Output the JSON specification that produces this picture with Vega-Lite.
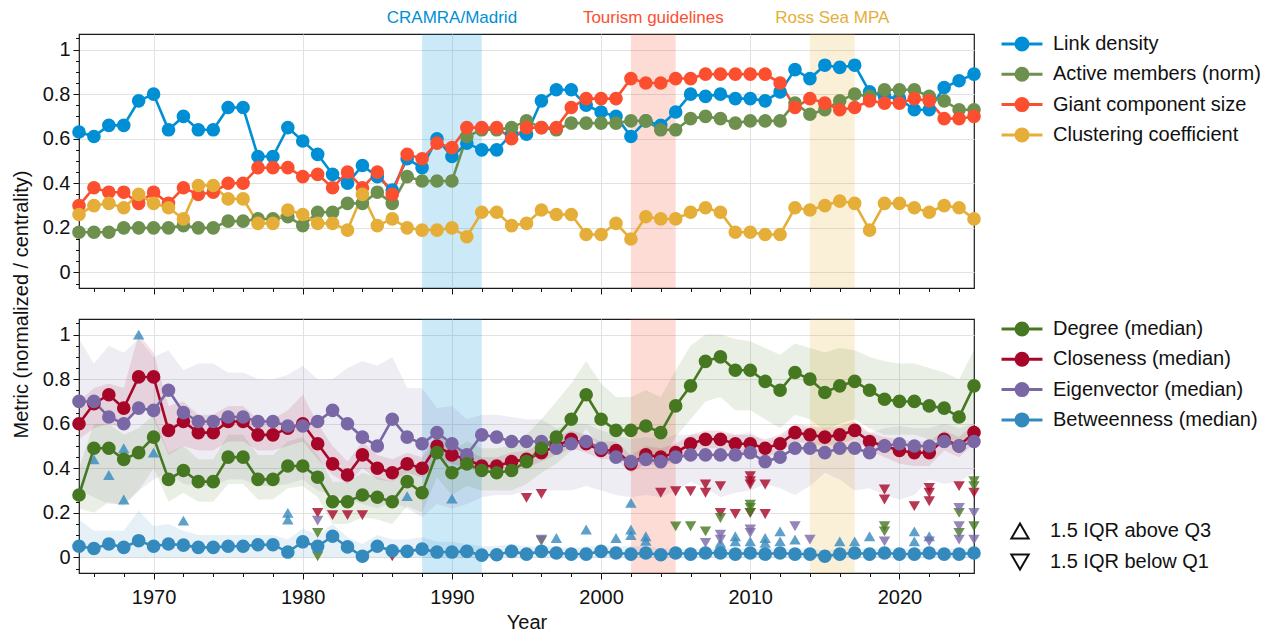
{
  "$schema": "https://vega.github.io/schema/vega-lite/v6.json",
  "background": "white",
  "padding": {"left": 10, "top": 8, "right": 5, "bottom": 5},
  "bounds": "flush",
  "spacing": 31,
  "resolve": {
    "scale": {"fill": "independent", "stroke": "independent", "color": "independent", "shape": "independent", "x": "independent", "y": "independent"},
    "legend": {"fill": "independent", "stroke": "independent", "color": "independent", "shape": "independent"},
    "axis": {"x": "independent", "y": "independent"}
  },
  "config": {
    "font": "Liberation Sans",
    "view": {"stroke": "#1a1a1a", "strokeWidth": 1.2},
    "axis": {"labelFontSize": 20, "titleFontSize": 20, "titleFontWeight": "normal", "labelColor": "#111", "titleColor": "#111", "tickColor": "#111", "domainColor": "#111", "gridColor": "#e2e2e2", "gridWidth": 1, "tickSize": 6, "labelPadding": 3},
    "legend": {"labelFontSize": 20, "labelColor": "#111", "padding": 0, "labelLimit": 0}
  },
  "datasets": {
    "events": [
      {"event": "CRAMRA/Madrid", "start": 1988, "end": 1992, "mid": 1990},
      {"event": "Tourism guidelines", "start": 2002, "end": 2005, "mid": 2003.5},
      {"event": "Ross Sea MPA", "start": 2014, "end": 2017, "mid": 2015.5}
    ],
    "top": [
      {"year":1965,"Link density":0.63,"Active members (norm)":0.18,"Giant component size":0.30,"Clustering coefficient":0.26},
      {"year":1966,"Link density":0.61,"Active members (norm)":0.18,"Giant component size":0.38,"Clustering coefficient":0.30},
      {"year":1967,"Link density":0.66,"Active members (norm)":0.18,"Giant component size":0.36,"Clustering coefficient":0.31},
      {"year":1968,"Link density":0.66,"Active members (norm)":0.20,"Giant component size":0.36,"Clustering coefficient":0.29},
      {"year":1969,"Link density":0.77,"Active members (norm)":0.20,"Giant component size":0.31,"Clustering coefficient":0.35},
      {"year":1970,"Link density":0.80,"Active members (norm)":0.20,"Giant component size":0.36,"Clustering coefficient":0.31},
      {"year":1971,"Link density":0.64,"Active members (norm)":0.20,"Giant component size":0.31,"Clustering coefficient":0.29},
      {"year":1972,"Link density":0.70,"Active members (norm)":0.21,"Giant component size":0.38,"Clustering coefficient":0.24},
      {"year":1973,"Link density":0.64,"Active members (norm)":0.20,"Giant component size":0.35,"Clustering coefficient":0.39},
      {"year":1974,"Link density":0.64,"Active members (norm)":0.20,"Giant component size":0.36,"Clustering coefficient":0.39},
      {"year":1975,"Link density":0.74,"Active members (norm)":0.23,"Giant component size":0.40,"Clustering coefficient":0.33},
      {"year":1976,"Link density":0.74,"Active members (norm)":0.23,"Giant component size":0.40,"Clustering coefficient":0.33},
      {"year":1977,"Link density":0.52,"Active members (norm)":0.24,"Giant component size":0.47,"Clustering coefficient":0.22},
      {"year":1978,"Link density":0.52,"Active members (norm)":0.24,"Giant component size":0.47,"Clustering coefficient":0.22},
      {"year":1979,"Link density":0.65,"Active members (norm)":0.25,"Giant component size":0.47,"Clustering coefficient":0.28},
      {"year":1980,"Link density":0.59,"Active members (norm)":0.21,"Giant component size":0.43,"Clustering coefficient":0.26},
      {"year":1981,"Link density":0.53,"Active members (norm)":0.27,"Giant component size":0.44,"Clustering coefficient":0.22},
      {"year":1982,"Link density":0.44,"Active members (norm)":0.27,"Giant component size":0.38,"Clustering coefficient":0.22},
      {"year":1983,"Link density":0.40,"Active members (norm)":0.31,"Giant component size":0.45,"Clustering coefficient":0.19},
      {"year":1984,"Link density":0.48,"Active members (norm)":0.31,"Giant component size":0.38,"Clustering coefficient":0.35},
      {"year":1985,"Link density":0.43,"Active members (norm)":0.36,"Giant component size":0.45,"Clustering coefficient":0.21},
      {"year":1986,"Link density":0.37,"Active members (norm)":0.31,"Giant component size":0.35,"Clustering coefficient":0.24},
      {"year":1987,"Link density":0.51,"Active members (norm)":0.43,"Giant component size":0.53,"Clustering coefficient":0.20},
      {"year":1988,"Link density":0.47,"Active members (norm)":0.41,"Giant component size":0.51,"Clustering coefficient":0.19},
      {"year":1989,"Link density":0.60,"Active members (norm)":0.41,"Giant component size":0.58,"Clustering coefficient":0.19},
      {"year":1990,"Link density":0.52,"Active members (norm)":0.41,"Giant component size":0.56,"Clustering coefficient":0.20},
      {"year":1991,"Link density":0.58,"Active members (norm)":0.61,"Giant component size":0.65,"Clustering coefficient":0.16},
      {"year":1992,"Link density":0.55,"Active members (norm)":0.64,"Giant component size":0.65,"Clustering coefficient":0.27},
      {"year":1993,"Link density":0.55,"Active members (norm)":0.64,"Giant component size":0.65,"Clustering coefficient":0.27},
      {"year":1994,"Link density":0.62,"Active members (norm)":0.65,"Giant component size":0.60,"Clustering coefficient":0.21},
      {"year":1995,"Link density":0.62,"Active members (norm)":0.68,"Giant component size":0.65,"Clustering coefficient":0.22},
      {"year":1996,"Link density":0.77,"Active members (norm)":0.65,"Giant component size":0.65,"Clustering coefficient":0.28},
      {"year":1997,"Link density":0.82,"Active members (norm)":0.64,"Giant component size":0.65,"Clustering coefficient":0.26},
      {"year":1998,"Link density":0.82,"Active members (norm)":0.67,"Giant component size":0.74,"Clustering coefficient":0.26},
      {"year":1999,"Link density":0.75,"Active members (norm)":0.67,"Giant component size":0.78,"Clustering coefficient":0.17},
      {"year":2000,"Link density":0.72,"Active members (norm)":0.67,"Giant component size":0.78,"Clustering coefficient":0.17},
      {"year":2001,"Link density":0.70,"Active members (norm)":0.67,"Giant component size":0.78,"Clustering coefficient":0.22},
      {"year":2002,"Link density":0.61,"Active members (norm)":0.68,"Giant component size":0.87,"Clustering coefficient":0.15},
      {"year":2003,"Link density":0.68,"Active members (norm)":0.68,"Giant component size":0.85,"Clustering coefficient":0.25},
      {"year":2004,"Link density":0.66,"Active members (norm)":0.64,"Giant component size":0.85,"Clustering coefficient":0.24},
      {"year":2005,"Link density":0.72,"Active members (norm)":0.64,"Giant component size":0.87,"Clustering coefficient":0.24},
      {"year":2006,"Link density":0.80,"Active members (norm)":0.69,"Giant component size":0.87,"Clustering coefficient":0.27},
      {"year":2007,"Link density":0.79,"Active members (norm)":0.70,"Giant component size":0.89,"Clustering coefficient":0.29},
      {"year":2008,"Link density":0.80,"Active members (norm)":0.69,"Giant component size":0.89,"Clustering coefficient":0.27},
      {"year":2009,"Link density":0.78,"Active members (norm)":0.67,"Giant component size":0.89,"Clustering coefficient":0.18},
      {"year":2010,"Link density":0.78,"Active members (norm)":0.68,"Giant component size":0.89,"Clustering coefficient":0.18},
      {"year":2011,"Link density":0.77,"Active members (norm)":0.68,"Giant component size":0.89,"Clustering coefficient":0.17},
      {"year":2012,"Link density":0.81,"Active members (norm)":0.68,"Giant component size":0.85,"Clustering coefficient":0.17},
      {"year":2013,"Link density":0.91,"Active members (norm)":0.76,"Giant component size":0.74,"Clustering coefficient":0.29},
      {"year":2014,"Link density":0.87,"Active members (norm)":0.71,"Giant component size":0.78,"Clustering coefficient":0.28},
      {"year":2015,"Link density":0.93,"Active members (norm)":0.73,"Giant component size":0.76,"Clustering coefficient":0.30},
      {"year":2016,"Link density":0.92,"Active members (norm)":0.77,"Giant component size":0.73,"Clustering coefficient":0.32},
      {"year":2017,"Link density":0.93,"Active members (norm)":0.80,"Giant component size":0.74,"Clustering coefficient":0.31},
      {"year":2018,"Link density":0.81,"Active members (norm)":0.79,"Giant component size":0.77,"Clustering coefficient":0.19},
      {"year":2019,"Link density":0.79,"Active members (norm)":0.82,"Giant component size":0.76,"Clustering coefficient":0.31},
      {"year":2020,"Link density":0.78,"Active members (norm)":0.82,"Giant component size":0.76,"Clustering coefficient":0.31},
      {"year":2021,"Link density":0.73,"Active members (norm)":0.82,"Giant component size":0.78,"Clustering coefficient":0.29},
      {"year":2022,"Link density":0.73,"Active members (norm)":0.79,"Giant component size":0.77,"Clustering coefficient":0.27},
      {"year":2023,"Link density":0.83,"Active members (norm)":0.77,"Giant component size":0.69,"Clustering coefficient":0.30},
      {"year":2024,"Link density":0.86,"Active members (norm)":0.73,"Giant component size":0.69,"Clustering coefficient":0.29},
      {"year":2025,"Link density":0.89,"Active members (norm)":0.73,"Giant component size":0.70,"Clustering coefficient":0.24}
    ],
    "bottom": [
      {"year":1965,"series":"Closeness (median)","m":0.60,"q1":0.53,"q3":0.70},{"year":1965,"series":"Eigenvector (median)","m":0.70,"q1":0.30,"q3":0.98},{"year":1965,"series":"Degree (median)","m":0.28,"q1":0.22,"q3":0.40},{"year":1965,"series":"Betweenness (median)","m":0.05,"q1":0,"q3":0.17},
      {"year":1966,"series":"Closeness (median)","m":0.69,"q1":0.58,"q3":0.76},{"year":1966,"series":"Eigenvector (median)","m":0.70,"q1":0.27,"q3":0.87},{"year":1966,"series":"Degree (median)","m":0.49,"q1":0.20,"q3":0.60},{"year":1966,"series":"Betweenness (median)","m":0.04,"q1":0,"q3":0.12},
      {"year":1967,"series":"Closeness (median)","m":0.73,"q1":0.60,"q3":0.78},{"year":1967,"series":"Eigenvector (median)","m":0.63,"q1":0.24,"q3":0.95},{"year":1967,"series":"Degree (median)","m":0.49,"q1":0.25,"q3":0.60},{"year":1967,"series":"Betweenness (median)","m":0.06,"q1":0,"q3":0.12},
      {"year":1968,"series":"Closeness (median)","m":0.67,"q1":0.58,"q3":0.76},{"year":1968,"series":"Eigenvector (median)","m":0.60,"q1":0.24,"q3":0.92},{"year":1968,"series":"Degree (median)","m":0.44,"q1":0.23,"q3":0.55},{"year":1968,"series":"Betweenness (median)","m":0.045,"q1":0,"q3":0.12},
      {"year":1969,"series":"Closeness (median)","m":0.81,"q1":0.70,"q3":1.0},{"year":1969,"series":"Eigenvector (median)","m":0.67,"q1":0.30,"q3":0.98},{"year":1969,"series":"Degree (median)","m":0.47,"q1":0.30,"q3":0.58},{"year":1969,"series":"Betweenness (median)","m":0.075,"q1":0,"q3":0.21},
      {"year":1970,"series":"Closeness (median)","m":0.81,"q1":0.62,"q3":0.92},{"year":1970,"series":"Eigenvector (median)","m":0.66,"q1":0.35,"q3":0.90},{"year":1970,"series":"Degree (median)","m":0.54,"q1":0.40,"q3":0.64},{"year":1970,"series":"Betweenness (median)","m":0.05,"q1":0,"q3":0.14},
      {"year":1971,"series":"Closeness (median)","m":0.57,"q1":0.46,"q3":0.68},{"year":1971,"series":"Eigenvector (median)","m":0.75,"q1":0.38,"q3":0.93},{"year":1971,"series":"Degree (median)","m":0.35,"q1":0.25,"q3":0.47},{"year":1971,"series":"Betweenness (median)","m":0.06,"q1":0,"q3":0.15},
      {"year":1972,"series":"Closeness (median)","m":0.61,"q1":0.50,"q3":0.70},{"year":1972,"series":"Eigenvector (median)","m":0.65,"q1":0.33,"q3":0.84},{"year":1972,"series":"Degree (median)","m":0.39,"q1":0.29,"q3":0.50},{"year":1972,"series":"Betweenness (median)","m":0.055,"q1":0,"q3":0.12},
      {"year":1973,"series":"Closeness (median)","m":0.56,"q1":0.48,"q3":0.64},{"year":1973,"series":"Eigenvector (median)","m":0.61,"q1":0.32,"q3":0.87},{"year":1973,"series":"Degree (median)","m":0.34,"q1":0.25,"q3":0.44},{"year":1973,"series":"Betweenness (median)","m":0.045,"q1":0,"q3":0.10},
      {"year":1974,"series":"Closeness (median)","m":0.56,"q1":0.48,"q3":0.64},{"year":1974,"series":"Eigenvector (median)","m":0.61,"q1":0.32,"q3":0.87},{"year":1974,"series":"Degree (median)","m":0.34,"q1":0.25,"q3":0.44},{"year":1974,"series":"Betweenness (median)","m":0.045,"q1":0,"q3":0.10},
      {"year":1975,"series":"Closeness (median)","m":0.61,"q1":0.52,"q3":0.68},{"year":1975,"series":"Eigenvector (median)","m":0.63,"q1":0.35,"q3":0.83},{"year":1975,"series":"Degree (median)","m":0.45,"q1":0.33,"q3":0.55},{"year":1975,"series":"Betweenness (median)","m":0.05,"q1":0,"q3":0.10},
      {"year":1976,"series":"Closeness (median)","m":0.61,"q1":0.52,"q3":0.68},{"year":1976,"series":"Eigenvector (median)","m":0.63,"q1":0.35,"q3":0.83},{"year":1976,"series":"Degree (median)","m":0.45,"q1":0.33,"q3":0.55},{"year":1976,"series":"Betweenness (median)","m":0.05,"q1":0,"q3":0.10},
      {"year":1977,"series":"Closeness (median)","m":0.55,"q1":0.48,"q3":0.62},{"year":1977,"series":"Eigenvector (median)","m":0.61,"q1":0.32,"q3":0.80},{"year":1977,"series":"Degree (median)","m":0.35,"q1":0.26,"q3":0.46},{"year":1977,"series":"Betweenness (median)","m":0.057,"q1":0,"q3":0.10},
      {"year":1978,"series":"Closeness (median)","m":0.55,"q1":0.48,"q3":0.62},{"year":1978,"series":"Eigenvector (median)","m":0.61,"q1":0.32,"q3":0.80},{"year":1978,"series":"Degree (median)","m":0.35,"q1":0.26,"q3":0.46},{"year":1978,"series":"Betweenness (median)","m":0.057,"q1":0,"q3":0.10},
      {"year":1979,"series":"Closeness (median)","m":0.58,"q1":0.50,"q3":0.66},{"year":1979,"series":"Eigenvector (median)","m":0.59,"q1":0.33,"q3":0.82},{"year":1979,"series":"Degree (median)","m":0.41,"q1":0.31,"q3":0.52},{"year":1979,"series":"Betweenness (median)","m":0.024,"q1":0,"q3":0.08},
      {"year":1980,"series":"Closeness (median)","m":0.60,"q1":0.52,"q3":0.73},{"year":1980,"series":"Eigenvector (median)","m":0.59,"q1":0.35,"q3":0.86},{"year":1980,"series":"Degree (median)","m":0.41,"q1":0.32,"q3":0.54},{"year":1980,"series":"Betweenness (median)","m":0.07,"q1":0,"q3":0.13},
      {"year":1981,"series":"Closeness (median)","m":0.51,"q1":0.44,"q3":0.60},{"year":1981,"series":"Eigenvector (median)","m":0.61,"q1":0.30,"q3":0.80},{"year":1981,"series":"Degree (median)","m":0.36,"q1":0.27,"q3":0.46},{"year":1981,"series":"Betweenness (median)","m":0.05,"q1":0,"q3":0.10},
      {"year":1982,"series":"Closeness (median)","m":0.42,"q1":0.37,"q3":0.50},{"year":1982,"series":"Eigenvector (median)","m":0.66,"q1":0.28,"q3":0.80},{"year":1982,"series":"Degree (median)","m":0.25,"q1":0.15,"q3":0.34},{"year":1982,"series":"Betweenness (median)","m":0.095,"q1":0,"q3":0.15},
      {"year":1983,"series":"Closeness (median)","m":0.37,"q1":0.33,"q3":0.43},{"year":1983,"series":"Eigenvector (median)","m":0.60,"q1":0.26,"q3":0.85},{"year":1983,"series":"Degree (median)","m":0.25,"q1":0.15,"q3":0.34},{"year":1983,"series":"Betweenness (median)","m":0.047,"q1":0,"q3":0.09},
      {"year":1984,"series":"Closeness (median)","m":0.46,"q1":0.40,"q3":0.52},{"year":1984,"series":"Eigenvector (median)","m":0.54,"q1":0.24,"q3":0.88},{"year":1984,"series":"Degree (median)","m":0.28,"q1":0.18,"q3":0.38},{"year":1984,"series":"Betweenness (median)","m":0.005,"q1":0,"q3":0.06},
      {"year":1985,"series":"Closeness (median)","m":0.40,"q1":0.35,"q3":0.46},{"year":1985,"series":"Eigenvector (median)","m":0.50,"q1":0.22,"q3":0.86},{"year":1985,"series":"Degree (median)","m":0.27,"q1":0.17,"q3":0.36},{"year":1985,"series":"Betweenness (median)","m":0.05,"q1":0,"q3":0.10},
      {"year":1986,"series":"Closeness (median)","m":0.38,"q1":0.34,"q3":0.44},{"year":1986,"series":"Eigenvector (median)","m":0.62,"q1":0.25,"q3":0.90},{"year":1986,"series":"Degree (median)","m":0.25,"q1":0.15,"q3":0.34},{"year":1986,"series":"Betweenness (median)","m":0.03,"q1":0,"q3":0.08},
      {"year":1987,"series":"Closeness (median)","m":0.42,"q1":0.38,"q3":0.47},{"year":1987,"series":"Eigenvector (median)","m":0.54,"q1":0.22,"q3":0.76},{"year":1987,"series":"Degree (median)","m":0.34,"q1":0.23,"q3":0.45},{"year":1987,"series":"Betweenness (median)","m":0.027,"q1":0,"q3":0.08},
      {"year":1988,"series":"Closeness (median)","m":0.40,"q1":0.36,"q3":0.45},{"year":1988,"series":"Eigenvector (median)","m":0.51,"q1":0.18,"q3":0.76},{"year":1988,"series":"Degree (median)","m":0.29,"q1":0.20,"q3":0.40},{"year":1988,"series":"Betweenness (median)","m":0.037,"q1":0,"q3":0.09},
      {"year":1989,"series":"Closeness (median)","m":0.50,"q1":0.45,"q3":0.55},{"year":1989,"series":"Eigenvector (median)","m":0.56,"q1":0.24,"q3":0.67},{"year":1989,"series":"Degree (median)","m":0.47,"q1":0.36,"q3":0.56},{"year":1989,"series":"Betweenness (median)","m":0.024,"q1":0,"q3":0.07},
      {"year":1990,"series":"Closeness (median)","m":0.46,"q1":0.42,"q3":0.50},{"year":1990,"series":"Eigenvector (median)","m":0.51,"q1":0.22,"q3":0.68},{"year":1990,"series":"Degree (median)","m":0.38,"q1":0.28,"q3":0.48},{"year":1990,"series":"Betweenness (median)","m":0.024,"q1":0,"q3":0.07},
      {"year":1991,"series":"Closeness (median)","m":0.44,"q1":0.40,"q3":0.48},{"year":1991,"series":"Eigenvector (median)","m":0.46,"q1":0.24,"q3":0.62},{"year":1991,"series":"Degree (median)","m":0.42,"q1":0.32,"q3":0.52},{"year":1991,"series":"Betweenness (median)","m":0.027,"q1":0,"q3":0.06},
      {"year":1992,"series":"Closeness (median)","m":0.41,"q1":0.38,"q3":0.45},{"year":1992,"series":"Eigenvector (median)","m":0.55,"q1":0.27,"q3":0.64},{"year":1992,"series":"Degree (median)","m":0.39,"q1":0.30,"q3":0.49},{"year":1992,"series":"Betweenness (median)","m":0.01,"q1":0,"q3":0.05},
      {"year":1993,"series":"Closeness (median)","m":0.41,"q1":0.38,"q3":0.45},{"year":1993,"series":"Eigenvector (median)","m":0.54,"q1":0.28,"q3":0.64},{"year":1993,"series":"Degree (median)","m":0.38,"q1":0.30,"q3":0.49},{"year":1993,"series":"Betweenness (median)","m":0.012,"q1":0,"q3":0.05},
      {"year":1994,"series":"Closeness (median)","m":0.43,"q1":0.39,"q3":0.47},{"year":1994,"series":"Eigenvector (median)","m":0.52,"q1":0.28,"q3":0.63},{"year":1994,"series":"Degree (median)","m":0.39,"q1":0.30,"q3":0.50},{"year":1994,"series":"Betweenness (median)","m":0.027,"q1":0,"q3":0.06},
      {"year":1995,"series":"Closeness (median)","m":0.44,"q1":0.40,"q3":0.48},{"year":1995,"series":"Eigenvector (median)","m":0.52,"q1":0.30,"q3":0.62},{"year":1995,"series":"Degree (median)","m":0.43,"q1":0.33,"q3":0.55},{"year":1995,"series":"Betweenness (median)","m":0.015,"q1":0,"q3":0.05},
      {"year":1996,"series":"Closeness (median)","m":0.47,"q1":0.43,"q3":0.51},{"year":1996,"series":"Eigenvector (median)","m":0.52,"q1":0.30,"q3":0.62},{"year":1996,"series":"Degree (median)","m":0.49,"q1":0.38,"q3":0.62},{"year":1996,"series":"Betweenness (median)","m":0.027,"q1":0,"q3":0.05},
      {"year":1997,"series":"Closeness (median)","m":0.50,"q1":0.46,"q3":0.54},{"year":1997,"series":"Eigenvector (median)","m":0.49,"q1":0.30,"q3":0.58},{"year":1997,"series":"Degree (median)","m":0.54,"q1":0.42,"q3":0.70},{"year":1997,"series":"Betweenness (median)","m":0.02,"q1":0,"q3":0.05},
      {"year":1998,"series":"Closeness (median)","m":0.53,"q1":0.49,"q3":0.57},{"year":1998,"series":"Eigenvector (median)","m":0.51,"q1":0.30,"q3":0.60},{"year":1998,"series":"Degree (median)","m":0.62,"q1":0.48,"q3":0.78},{"year":1998,"series":"Betweenness (median)","m":0.015,"q1":0,"q3":0.04},
      {"year":1999,"series":"Closeness (median)","m":0.51,"q1":0.47,"q3":0.55},{"year":1999,"series":"Eigenvector (median)","m":0.52,"q1":0.32,"q3":0.60},{"year":1999,"series":"Degree (median)","m":0.73,"q1":0.58,"q3":0.88},{"year":1999,"series":"Betweenness (median)","m":0.015,"q1":0,"q3":0.05},
      {"year":2000,"series":"Closeness (median)","m":0.48,"q1":0.44,"q3":0.52},{"year":2000,"series":"Eigenvector (median)","m":0.49,"q1":0.30,"q3":0.57},{"year":2000,"series":"Degree (median)","m":0.62,"q1":0.48,"q3":0.78},{"year":2000,"series":"Betweenness (median)","m":0.027,"q1":0,"q3":0.05},
      {"year":2001,"series":"Closeness (median)","m":0.48,"q1":0.44,"q3":0.52},{"year":2001,"series":"Eigenvector (median)","m":0.45,"q1":0.28,"q3":0.55},{"year":2001,"series":"Degree (median)","m":0.57,"q1":0.44,"q3":0.72},{"year":2001,"series":"Betweenness (median)","m":0.02,"q1":0,"q3":0.05},
      {"year":2002,"series":"Closeness (median)","m":0.42,"q1":0.38,"q3":0.46},{"year":2002,"series":"Eigenvector (median)","m":0.43,"q1":0.27,"q3":0.53},{"year":2002,"series":"Degree (median)","m":0.57,"q1":0.44,"q3":0.72},{"year":2002,"series":"Betweenness (median)","m":0.015,"q1":0,"q3":0.05},
      {"year":2003,"series":"Closeness (median)","m":0.46,"q1":0.42,"q3":0.50},{"year":2003,"series":"Eigenvector (median)","m":0.44,"q1":0.28,"q3":0.54},{"year":2003,"series":"Degree (median)","m":0.59,"q1":0.46,"q3":0.75},{"year":2003,"series":"Betweenness (median)","m":0.02,"q1":0,"q3":0.05},
      {"year":2004,"series":"Closeness (median)","m":0.45,"q1":0.41,"q3":0.49},{"year":2004,"series":"Eigenvector (median)","m":0.43,"q1":0.27,"q3":0.53},{"year":2004,"series":"Degree (median)","m":0.56,"q1":0.43,"q3":0.72},{"year":2004,"series":"Betweenness (median)","m":0.012,"q1":0,"q3":0.04},
      {"year":2005,"series":"Closeness (median)","m":0.47,"q1":0.43,"q3":0.51},{"year":2005,"series":"Eigenvector (median)","m":0.45,"q1":0.30,"q3":0.55},{"year":2005,"series":"Degree (median)","m":0.68,"q1":0.54,"q3":0.84},{"year":2005,"series":"Betweenness (median)","m":0.02,"q1":0,"q3":0.04},
      {"year":2006,"series":"Closeness (median)","m":0.51,"q1":0.47,"q3":0.55},{"year":2006,"series":"Eigenvector (median)","m":0.46,"q1":0.34,"q3":0.55},{"year":2006,"series":"Degree (median)","m":0.77,"q1":0.62,"q3":0.95},{"year":2006,"series":"Betweenness (median)","m":0.015,"q1":0,"q3":0.04},
      {"year":2007,"series":"Closeness (median)","m":0.53,"q1":0.49,"q3":0.57},{"year":2007,"series":"Eigenvector (median)","m":0.46,"q1":0.31,"q3":0.55},{"year":2007,"series":"Degree (median)","m":0.88,"q1":0.70,"q3":1.0},{"year":2007,"series":"Betweenness (median)","m":0.02,"q1":0,"q3":0.04},
      {"year":2008,"series":"Closeness (median)","m":0.53,"q1":0.49,"q3":0.57},{"year":2008,"series":"Eigenvector (median)","m":0.46,"q1":0.27,"q3":0.55},{"year":2008,"series":"Degree (median)","m":0.90,"q1":0.72,"q3":1.0},{"year":2008,"series":"Betweenness (median)","m":0.02,"q1":0,"q3":0.04},
      {"year":2009,"series":"Closeness (median)","m":0.51,"q1":0.47,"q3":0.55},{"year":2009,"series":"Eigenvector (median)","m":0.46,"q1":0.29,"q3":0.55},{"year":2009,"series":"Degree (median)","m":0.84,"q1":0.66,"q3":0.98},{"year":2009,"series":"Betweenness (median)","m":0.015,"q1":0,"q3":0.04},
      {"year":2010,"series":"Closeness (median)","m":0.51,"q1":0.47,"q3":0.55},{"year":2010,"series":"Eigenvector (median)","m":0.47,"q1":0.30,"q3":0.56},{"year":2010,"series":"Degree (median)","m":0.84,"q1":0.66,"q3":0.97},{"year":2010,"series":"Betweenness (median)","m":0.02,"q1":0,"q3":0.04},
      {"year":2011,"series":"Closeness (median)","m":0.49,"q1":0.45,"q3":0.53},{"year":2011,"series":"Eigenvector (median)","m":0.43,"q1":0.33,"q3":0.52},{"year":2011,"series":"Degree (median)","m":0.79,"q1":0.62,"q3":0.94},{"year":2011,"series":"Betweenness (median)","m":0.015,"q1":0,"q3":0.04},
      {"year":2012,"series":"Closeness (median)","m":0.51,"q1":0.47,"q3":0.55},{"year":2012,"series":"Eigenvector (median)","m":0.45,"q1":0.31,"q3":0.54},{"year":2012,"series":"Degree (median)","m":0.75,"q1":0.58,"q3":0.91},{"year":2012,"series":"Betweenness (median)","m":0.02,"q1":0,"q3":0.04},
      {"year":2013,"series":"Closeness (median)","m":0.56,"q1":0.52,"q3":0.60},{"year":2013,"series":"Eigenvector (median)","m":0.49,"q1":0.28,"q3":0.58},{"year":2013,"series":"Degree (median)","m":0.83,"q1":0.64,"q3":0.96},{"year":2013,"series":"Betweenness (median)","m":0.015,"q1":0,"q3":0.04},
      {"year":2014,"series":"Closeness (median)","m":0.55,"q1":0.51,"q3":0.59},{"year":2014,"series":"Eigenvector (median)","m":0.49,"q1":0.32,"q3":0.58},{"year":2014,"series":"Degree (median)","m":0.80,"q1":0.62,"q3":0.94},{"year":2014,"series":"Betweenness (median)","m":0.015,"q1":0,"q3":0.04},
      {"year":2015,"series":"Closeness (median)","m":0.54,"q1":0.50,"q3":0.58},{"year":2015,"series":"Eigenvector (median)","m":0.47,"q1":0.38,"q3":0.56},{"year":2015,"series":"Degree (median)","m":0.74,"q1":0.57,"q3":0.92},{"year":2015,"series":"Betweenness (median)","m":0.005,"q1":0,"q3":0.03},
      {"year":2016,"series":"Closeness (median)","m":0.55,"q1":0.51,"q3":0.59},{"year":2016,"series":"Eigenvector (median)","m":0.49,"q1":0.35,"q3":0.58},{"year":2016,"series":"Degree (median)","m":0.77,"q1":0.60,"q3":0.94},{"year":2016,"series":"Betweenness (median)","m":0.015,"q1":0,"q3":0.04},
      {"year":2017,"series":"Closeness (median)","m":0.57,"q1":0.53,"q3":0.61},{"year":2017,"series":"Eigenvector (median)","m":0.49,"q1":0.30,"q3":0.58},{"year":2017,"series":"Degree (median)","m":0.79,"q1":0.62,"q3":0.93},{"year":2017,"series":"Betweenness (median)","m":0.02,"q1":0,"q3":0.04},
      {"year":2018,"series":"Closeness (median)","m":0.52,"q1":0.48,"q3":0.56},{"year":2018,"series":"Eigenvector (median)","m":0.47,"q1":0.31,"q3":0.56},{"year":2018,"series":"Degree (median)","m":0.75,"q1":0.58,"q3":0.90},{"year":2018,"series":"Betweenness (median)","m":0.015,"q1":0,"q3":0.04},
      {"year":2019,"series":"Closeness (median)","m":0.50,"q1":0.45,"q3":0.54},{"year":2019,"series":"Eigenvector (median)","m":0.50,"q1":0.28,"q3":0.58},{"year":2019,"series":"Degree (median)","m":0.71,"q1":0.55,"q3":0.88},{"year":2019,"series":"Betweenness (median)","m":0.02,"q1":0,"q3":0.04},
      {"year":2020,"series":"Closeness (median)","m":0.48,"q1":0.42,"q3":0.53},{"year":2020,"series":"Eigenvector (median)","m":0.51,"q1":0.26,"q3":0.59},{"year":2020,"series":"Degree (median)","m":0.70,"q1":0.55,"q3":0.87},{"year":2020,"series":"Betweenness (median)","m":0.015,"q1":0,"q3":0.04},
      {"year":2021,"series":"Closeness (median)","m":0.47,"q1":0.41,"q3":0.52},{"year":2021,"series":"Eigenvector (median)","m":0.50,"q1":0.28,"q3":0.58},{"year":2021,"series":"Degree (median)","m":0.70,"q1":0.55,"q3":0.87},{"year":2021,"series":"Betweenness (median)","m":0.015,"q1":0,"q3":0.04},
      {"year":2022,"series":"Closeness (median)","m":0.47,"q1":0.41,"q3":0.52},{"year":2022,"series":"Eigenvector (median)","m":0.50,"q1":0.35,"q3":0.58},{"year":2022,"series":"Degree (median)","m":0.68,"q1":0.53,"q3":0.85},{"year":2022,"series":"Betweenness (median)","m":0.02,"q1":0,"q3":0.04},
      {"year":2023,"series":"Closeness (median)","m":0.53,"q1":0.48,"q3":0.57},{"year":2023,"series":"Eigenvector (median)","m":0.52,"q1":0.33,"q3":0.60},{"year":2023,"series":"Degree (median)","m":0.67,"q1":0.52,"q3":0.83},{"year":2023,"series":"Betweenness (median)","m":0.015,"q1":0,"q3":0.04},
      {"year":2024,"series":"Closeness (median)","m":0.50,"q1":0.45,"q3":0.54},{"year":2024,"series":"Eigenvector (median)","m":0.50,"q1":0.34,"q3":0.58},{"year":2024,"series":"Degree (median)","m":0.63,"q1":0.48,"q3":0.80},{"year":2024,"series":"Betweenness (median)","m":0.015,"q1":0,"q3":0.04},
      {"year":2025,"series":"Closeness (median)","m":0.56,"q1":0.51,"q3":0.60},{"year":2025,"series":"Eigenvector (median)","m":0.52,"q1":0.38,"q3":0.60},{"year":2025,"series":"Degree (median)","m":0.77,"q1":0.60,"q3":0.93},{"year":2025,"series":"Betweenness (median)","m":0.02,"q1":0,"q3":0.04}
    ],
    "outliers": [
      {"year":1966,"series":"Betweenness (median)","v":0.44,"dir":"1.5 IQR above Q3"},
      {"year":1967,"series":"Betweenness (median)","v":0.37,"dir":"1.5 IQR above Q3"},
      {"year":1968,"series":"Betweenness (median)","v":0.49,"dir":"1.5 IQR above Q3"},
      {"year":1968,"series":"Betweenness (median)","v":0.26,"dir":"1.5 IQR above Q3"},
      {"year":1969,"series":"Betweenness (median)","v":1.0,"dir":"1.5 IQR above Q3"},
      {"year":1970,"series":"Betweenness (median)","v":0.47,"dir":"1.5 IQR above Q3"},
      {"year":1972,"series":"Betweenness (median)","v":0.165,"dir":"1.5 IQR above Q3"},
      {"year":1979,"series":"Betweenness (median)","v":0.20,"dir":"1.5 IQR above Q3"},
      {"year":1979,"series":"Betweenness (median)","v":0.17,"dir":"1.5 IQR above Q3"},
      {"year":1987,"series":"Betweenness (median)","v":0.275,"dir":"1.5 IQR above Q3"},
      {"year":1990,"series":"Betweenness (median)","v":0.264,"dir":"1.5 IQR above Q3"},
      {"year":1997,"series":"Betweenness (median)","v":0.087,"dir":"1.5 IQR above Q3"},
      {"year":1999,"series":"Betweenness (median)","v":0.125,"dir":"1.5 IQR above Q3"},
      {"year":2001,"series":"Betweenness (median)","v":0.087,"dir":"1.5 IQR above Q3"},
      {"year":2002,"series":"Betweenness (median)","v":0.245,"dir":"1.5 IQR above Q3"},
      {"year":2002,"series":"Betweenness (median)","v":0.125,"dir":"1.5 IQR above Q3"},
      {"year":2002,"series":"Betweenness (median)","v":0.10,"dir":"1.5 IQR above Q3"},
      {"year":2003,"series":"Betweenness (median)","v":0.095,"dir":"1.5 IQR above Q3"},
      {"year":2003,"series":"Betweenness (median)","v":0.075,"dir":"1.5 IQR above Q3"},
      {"year":2008,"series":"Betweenness (median)","v":0.065,"dir":"1.5 IQR above Q3"},
      {"year":2009,"series":"Betweenness (median)","v":0.095,"dir":"1.5 IQR above Q3"},
      {"year":2009,"series":"Betweenness (median)","v":0.072,"dir":"1.5 IQR above Q3"},
      {"year":2010,"series":"Betweenness (median)","v":0.072,"dir":"1.5 IQR above Q3"},
      {"year":2011,"series":"Betweenness (median)","v":0.087,"dir":"1.5 IQR above Q3"},
      {"year":2011,"series":"Betweenness (median)","v":0.065,"dir":"1.5 IQR above Q3"},
      {"year":2012,"series":"Betweenness (median)","v":0.117,"dir":"1.5 IQR above Q3"},
      {"year":2012,"series":"Betweenness (median)","v":0.072,"dir":"1.5 IQR above Q3"},
      {"year":2013,"series":"Betweenness (median)","v":0.08,"dir":"1.5 IQR above Q3"},
      {"year":2016,"series":"Betweenness (median)","v":0.072,"dir":"1.5 IQR above Q3"},
      {"year":2017,"series":"Betweenness (median)","v":0.072,"dir":"1.5 IQR above Q3"},
      {"year":2018,"series":"Betweenness (median)","v":0.095,"dir":"1.5 IQR above Q3"},
      {"year":2021,"series":"Betweenness (median)","v":0.117,"dir":"1.5 IQR above Q3"},
      {"year":2021,"series":"Betweenness (median)","v":0.072,"dir":"1.5 IQR above Q3"},
      {"year":2022,"series":"Betweenness (median)","v":0.095,"dir":"1.5 IQR above Q3"},
      {"year":1981,"series":"Closeness (median)","v":0.20,"dir":"1.5 IQR below Q1"},
      {"year":1982,"series":"Closeness (median)","v":0.19,"dir":"1.5 IQR below Q1"},
      {"year":1983,"series":"Closeness (median)","v":0.19,"dir":"1.5 IQR below Q1"},
      {"year":1984,"series":"Closeness (median)","v":0.19,"dir":"1.5 IQR below Q1"},
      {"year":1986,"series":"Closeness (median)","v":0.005,"dir":"1.5 IQR below Q1"},
      {"year":1995,"series":"Closeness (median)","v":0.267,"dir":"1.5 IQR below Q1"},
      {"year":1996,"series":"Closeness (median)","v":0.285,"dir":"1.5 IQR below Q1"},
      {"year":2004,"series":"Closeness (median)","v":0.29,"dir":"1.5 IQR below Q1"},
      {"year":2005,"series":"Closeness (median)","v":0.297,"dir":"1.5 IQR below Q1"},
      {"year":2006,"series":"Closeness (median)","v":0.297,"dir":"1.5 IQR below Q1"},
      {"year":2007,"series":"Closeness (median)","v":0.327,"dir":"1.5 IQR below Q1"},
      {"year":2007,"series":"Closeness (median)","v":0.29,"dir":"1.5 IQR below Q1"},
      {"year":2008,"series":"Closeness (median)","v":0.32,"dir":"1.5 IQR below Q1"},
      {"year":2008,"series":"Closeness (median)","v":0.20,"dir":"1.5 IQR below Q1"},
      {"year":2009,"series":"Closeness (median)","v":0.195,"dir":"1.5 IQR below Q1"},
      {"year":2010,"series":"Closeness (median)","v":0.365,"dir":"1.5 IQR below Q1"},
      {"year":2010,"series":"Closeness (median)","v":0.342,"dir":"1.5 IQR below Q1"},
      {"year":2010,"series":"Closeness (median)","v":0.327,"dir":"1.5 IQR below Q1"},
      {"year":2010,"series":"Closeness (median)","v":0.20,"dir":"1.5 IQR below Q1"},
      {"year":2011,"series":"Closeness (median)","v":0.327,"dir":"1.5 IQR below Q1"},
      {"year":2011,"series":"Closeness (median)","v":0.195,"dir":"1.5 IQR below Q1"},
      {"year":2019,"series":"Closeness (median)","v":0.305,"dir":"1.5 IQR below Q1"},
      {"year":2019,"series":"Closeness (median)","v":0.26,"dir":"1.5 IQR below Q1"},
      {"year":2021,"series":"Closeness (median)","v":0.23,"dir":"1.5 IQR below Q1"},
      {"year":2022,"series":"Closeness (median)","v":0.312,"dir":"1.5 IQR below Q1"},
      {"year":2022,"series":"Closeness (median)","v":0.29,"dir":"1.5 IQR below Q1"},
      {"year":2022,"series":"Closeness (median)","v":0.252,"dir":"1.5 IQR below Q1"},
      {"year":2024,"series":"Closeness (median)","v":0.32,"dir":"1.5 IQR below Q1"},
      {"year":2025,"series":"Closeness (median)","v":0.29,"dir":"1.5 IQR below Q1"},
      {"year":1981,"series":"Degree (median)","v":0.11,"dir":"1.5 IQR below Q1"},
      {"year":1981,"series":"Degree (median)","v":0.005,"dir":"1.5 IQR below Q1"},
      {"year":1996,"series":"Degree (median)","v":0.075,"dir":"1.5 IQR below Q1"},
      {"year":2005,"series":"Degree (median)","v":0.139,"dir":"1.5 IQR below Q1"},
      {"year":2006,"series":"Degree (median)","v":0.14,"dir":"1.5 IQR below Q1"},
      {"year":2007,"series":"Degree (median)","v":0.117,"dir":"1.5 IQR below Q1"},
      {"year":2008,"series":"Degree (median)","v":0.177,"dir":"1.5 IQR below Q1"},
      {"year":2010,"series":"Degree (median)","v":0.237,"dir":"1.5 IQR below Q1"},
      {"year":2010,"series":"Degree (median)","v":0.222,"dir":"1.5 IQR below Q1"},
      {"year":2010,"series":"Degree (median)","v":0.20,"dir":"1.5 IQR below Q1"},
      {"year":2019,"series":"Degree (median)","v":0.14,"dir":"1.5 IQR below Q1"},
      {"year":2019,"series":"Degree (median)","v":0.117,"dir":"1.5 IQR below Q1"},
      {"year":2024,"series":"Degree (median)","v":0.20,"dir":"1.5 IQR below Q1"},
      {"year":2024,"series":"Degree (median)","v":0.11,"dir":"1.5 IQR below Q1"},
      {"year":2025,"series":"Degree (median)","v":0.342,"dir":"1.5 IQR below Q1"},
      {"year":2025,"series":"Degree (median)","v":0.32,"dir":"1.5 IQR below Q1"},
      {"year":2025,"series":"Degree (median)","v":0.14,"dir":"1.5 IQR below Q1"},
      {"year":1981,"series":"Eigenvector (median)","v":0.165,"dir":"1.5 IQR below Q1"},
      {"year":1996,"series":"Eigenvector (median)","v":0.08,"dir":"1.5 IQR below Q1"},
      {"year":2007,"series":"Eigenvector (median)","v":0.065,"dir":"1.5 IQR below Q1"},
      {"year":2008,"series":"Eigenvector (median)","v":0.102,"dir":"1.5 IQR below Q1"},
      {"year":2008,"series":"Eigenvector (median)","v":0.08,"dir":"1.5 IQR below Q1"},
      {"year":2010,"series":"Eigenvector (median)","v":0.125,"dir":"1.5 IQR below Q1"},
      {"year":2010,"series":"Eigenvector (median)","v":0.11,"dir":"1.5 IQR below Q1"},
      {"year":2013,"series":"Eigenvector (median)","v":0.14,"dir":"1.5 IQR below Q1"},
      {"year":2014,"series":"Eigenvector (median)","v":0.08,"dir":"1.5 IQR below Q1"},
      {"year":2019,"series":"Eigenvector (median)","v":0.072,"dir":"1.5 IQR below Q1"},
      {"year":2022,"series":"Eigenvector (median)","v":0.072,"dir":"1.5 IQR below Q1"},
      {"year":2024,"series":"Eigenvector (median)","v":0.222,"dir":"1.5 IQR below Q1"},
      {"year":2024,"series":"Eigenvector (median)","v":0.14,"dir":"1.5 IQR below Q1"},
      {"year":2024,"series":"Eigenvector (median)","v":0.08,"dir":"1.5 IQR below Q1"},
      {"year":2025,"series":"Eigenvector (median)","v":0.20,"dir":"1.5 IQR below Q1"},
      {"year":2025,"series":"Eigenvector (median)","v":0.08,"dir":"1.5 IQR below Q1"}
    ]
  },
  "vconcat": [
    {
      "width": 895,
      "height": 254,
      "resolve": {"axis": {"x": "independent", "y": "independent"}},
      "layer": [
        {
          "data": {"name": "events"},
          "mark": {"type": "rect", "opacity": 0.2},
          "encoding": {
            "x": {"field": "start", "type": "quantitative", "scale": {"domain": [1965, 2025], "nice": false, "zero": false},
                  "axis": {"orient": "bottom", "values": [1970, 1980, 1990, 2000, 2010, 2020], "labels": false, "title": null, "grid": true, "domain": false}},
            "x2": {"field": "end"},
            "color": {"field": "event", "type": "nominal", "scale": {"domain": ["CRAMRA/Madrid", "Tourism guidelines", "Ross Sea MPA", "Link density", "Active members (norm)", "Giant component size", "Clustering coefficient"], "range": ["#008fd5", "#fc4f30", "#e5ae38", "#008fd5", "#6d904f", "#fc4f30", "#e5ae38"]}, "legend": null}
          }
        },
        {
          "data": {"name": "events"},
          "mark": {"type": "text", "fontSize": 17, "baseline": "middle", "align": "center"},
          "encoding": {
            "x": {"field": "mid", "type": "quantitative", "scale": {"domain": [1965, 2025], "nice": false, "zero": false}, "axis": null},
            "y": {"datum": 1.14, "type": "quantitative", "scale": {"domain": [-0.07, 1.07], "nice": false, "zero": false}, "axis": null},
            "text": {"field": "event"},
            "color": {"field": "event", "type": "nominal", "scale": {"domain": ["CRAMRA/Madrid", "Tourism guidelines", "Ross Sea MPA", "Link density", "Active members (norm)", "Giant component size", "Clustering coefficient"], "range": ["#008fd5", "#fc4f30", "#e5ae38", "#008fd5", "#6d904f", "#fc4f30", "#e5ae38"]}, "legend": null}
          }
        },
        {
          "data": {"name": "top"},
          "transform": [{"fold": ["Link density", "Active members (norm)", "Giant component size", "Clustering coefficient"], "as": ["series", "value"]}],
          "mark": {"type": "line", "strokeWidth": 2.6},
          "encoding": {
            "x": {"field": "year", "type": "quantitative", "scale": {"domain": [1965, 2025], "nice": false, "zero": false},
                  "axis": {"orient": "bottom", "values": [1966,1968,1970,1972,1974,1976,1978,1980,1982,1984,1986,1988,1990,1992,1994,1996,1998,2000,2002,2004,2006,2008,2010,2012,2014,2016,2018,2020,2022,2024], "labels": false, "title": null, "grid": false, "domain": false, "tickSize": 3.5}},
            "y": {"field": "value", "type": "quantitative", "scale": {"domain": [-0.07, 1.07], "nice": false, "zero": false},
                  "axis": {"orient": "left", "values": [0, 0.2, 0.4, 0.6, 0.8, 1], "format": "~g", "title": null, "grid": true, "domain": false}},
            "color": {"field": "series", "type": "nominal", "scale": {"domain": ["CRAMRA/Madrid", "Tourism guidelines", "Ross Sea MPA", "Link density", "Active members (norm)", "Giant component size", "Clustering coefficient"], "range": ["#008fd5", "#fc4f30", "#e5ae38", "#008fd5", "#6d904f", "#fc4f30", "#e5ae38"]}, "legend": null}
          }
        },
        {
          "data": {"name": "top"},
          "transform": [{"fold": ["Link density", "Active members (norm)", "Giant component size", "Clustering coefficient"], "as": ["series", "value"]}],
          "mark": {"type": "point", "filled": true, "shape": "circle", "size": 113, "strokeWidth": 3, "opacity": 1},
          "encoding": {
            "x": {"field": "year", "type": "quantitative", "scale": {"domain": [1965, 2025], "nice": false, "zero": false}, "axis": null},
            "y": {"field": "value", "type": "quantitative", "scale": {"domain": [-0.07, 1.07], "nice": false, "zero": false},
                  "axis": {"orient": "left", "values": [-0.05,0,0.05,0.1,0.15,0.2,0.25,0.3,0.35,0.4,0.45,0.5,0.55,0.6,0.65,0.7,0.75,0.8,0.85,0.9,0.95,1,1.05], "labels": false, "title": null, "grid": false, "domain": false, "tickSize": 3.5}},
            "fill": {"field": "series", "type": "nominal", "scale": {"domain": ["Link density", "Active members (norm)", "Giant component size", "Clustering coefficient"], "range": ["#008fd5", "#6d904f", "#fc4f30", "#e5ae38"]},
                     "legend": {"title": null, "orient": "right", "offset": 32, "symbolType": "M-2.56,0L2.56,0M-0.75,0A0.75,0.75,0,1,0,0.75,0A0.75,0.75,0,1,0,-0.75,0Z", "symbolSize": 256, "symbolStrokeWidth": 3, "labelOffset": 21, "rowPadding": 6.3, "labelFontSize": 20, "labelLimit": 0, "symbolOpacity": 1}},
            "stroke": {"field": "series", "type": "nominal", "scale": {"domain": ["Link density", "Active members (norm)", "Giant component size", "Clustering coefficient"], "range": ["#008fd5", "#6d904f", "#fc4f30", "#e5ae38"]},
                     "legend": {"title": null, "orient": "right", "offset": 32, "symbolType": "M-2.56,0L2.56,0M-0.75,0A0.75,0.75,0,1,0,0.75,0A0.75,0.75,0,1,0,-0.75,0Z", "symbolSize": 256, "symbolStrokeWidth": 3, "labelOffset": 21, "rowPadding": 6.3, "labelFontSize": 20, "labelLimit": 0, "symbolOpacity": 1}}
          }
        }
      ]
    },
    {
      "width": 895,
      "height": 254,
      "resolve": {"axis": {"x": "independent", "y": "independent"}},
      "layer": [
        {
          "data": {"name": "events"},
          "mark": {"type": "rect", "opacity": 0.2},
          "encoding": {
            "x": {"field": "start", "type": "quantitative", "scale": {"domain": [1965, 2025], "nice": false, "zero": false},
                  "axis": {"orient": "bottom", "values": [1970, 1980, 1990, 2000, 2010, 2020], "format": "d", "title": "Year", "labelPadding": 8, "titlePadding": 5, "grid": true, "domain": false}},
            "x2": {"field": "end"},
            "color": {"field": "event", "type": "nominal", "scale": {"domain": ["CRAMRA/Madrid", "Tourism guidelines", "Ross Sea MPA", "Degree (median)", "Closeness (median)", "Eigenvector (median)", "Betweenness (median)"], "range": ["#008fd5", "#fc4f30", "#e5ae38", "#467821", "#a60628", "#7a68a6", "#348abd"]}, "legend": null}
          }
        },
        {
          "data": {"name": "bottom"},
          "mark": {"type": "area", "opacity": 0.12},
          "encoding": {
            "x": {"field": "year", "type": "quantitative", "scale": {"domain": [1965, 2025], "nice": false, "zero": false}, "axis": null},
            "y": {"field": "q1", "type": "quantitative", "scale": {"domain": [-0.07, 1.07], "nice": false, "zero": false}, "axis": null},
            "y2": {"field": "q3"},
            "color": {"field": "series", "type": "nominal", "scale": {"domain": ["CRAMRA/Madrid", "Tourism guidelines", "Ross Sea MPA", "Degree (median)", "Closeness (median)", "Eigenvector (median)", "Betweenness (median)"], "range": ["#008fd5", "#fc4f30", "#e5ae38", "#467821", "#a60628", "#7a68a6", "#348abd"]}, "legend": null}
          }
        },
        {
          "data": {"name": "outliers"},
          "mark": {"type": "point", "filled": true, "size": 130, "opacity": 0.8},
          "encoding": {
            "x": {"field": "year", "type": "quantitative", "scale": {"domain": [1965, 2025], "nice": false, "zero": false}, "axis": null},
            "y": {"field": "v", "type": "quantitative", "scale": {"domain": [-0.07, 1.07], "nice": false, "zero": false}, "axis": null},
            "color": {"field": "series", "type": "nominal", "scale": {"domain": ["CRAMRA/Madrid", "Tourism guidelines", "Ross Sea MPA", "Degree (median)", "Closeness (median)", "Eigenvector (median)", "Betweenness (median)"], "range": ["#008fd5", "#fc4f30", "#e5ae38", "#467821", "#a60628", "#7a68a6", "#348abd"]}, "legend": null},
            "shape": {"field": "dir", "type": "nominal", "scale": {"domain": ["1.5 IQR above Q3", "1.5 IQR below Q1"], "range": ["triangle-up", "triangle-down"]},
                      "legend": {"title": null, "orient": "none", "legendX": 931, "legendY": 202, "symbolSize": 300, "symbolStrokeWidth": 2, "symbolFillColor": "transparent", "symbolStrokeColor": "#111", "symbolOpacity": 1, "labelOffset": 20, "rowPadding": 7, "labelFontSize": 20, "labelLimit": 0}}
          }
        },
        {
          "data": {"name": "bottom"},
          "mark": {"type": "line", "strokeWidth": 2.6},
          "encoding": {
            "x": {"field": "year", "type": "quantitative", "scale": {"domain": [1965, 2025], "nice": false, "zero": false},
                  "axis": {"orient": "bottom", "values": [1966,1968,1970,1972,1974,1976,1978,1980,1982,1984,1986,1988,1990,1992,1994,1996,1998,2000,2002,2004,2006,2008,2010,2012,2014,2016,2018,2020,2022,2024], "labels": false, "title": null, "grid": false, "domain": false, "tickSize": 3.5}},
            "y": {"field": "m", "type": "quantitative", "scale": {"domain": [-0.07, 1.07], "nice": false, "zero": false},
                  "axis": {"orient": "left", "values": [0, 0.2, 0.4, 0.6, 0.8, 1], "format": "~g", "title": "Metric (normalized / centrality)", "titleY": -15, "titlePadding": 11, "grid": true, "domain": false}},
            "color": {"field": "series", "type": "nominal", "scale": {"domain": ["CRAMRA/Madrid", "Tourism guidelines", "Ross Sea MPA", "Degree (median)", "Closeness (median)", "Eigenvector (median)", "Betweenness (median)"], "range": ["#008fd5", "#fc4f30", "#e5ae38", "#467821", "#a60628", "#7a68a6", "#348abd"]}, "legend": null}
          }
        },
        {
          "data": {"name": "bottom"},
          "mark": {"type": "point", "filled": true, "shape": "circle", "size": 113, "strokeWidth": 3, "opacity": 1},
          "encoding": {
            "x": {"field": "year", "type": "quantitative", "scale": {"domain": [1965, 2025], "nice": false, "zero": false}, "axis": null},
            "y": {"field": "m", "type": "quantitative", "scale": {"domain": [-0.07, 1.07], "nice": false, "zero": false},
                  "axis": {"orient": "left", "values": [-0.05,0,0.05,0.1,0.15,0.2,0.25,0.3,0.35,0.4,0.45,0.5,0.55,0.6,0.65,0.7,0.75,0.8,0.85,0.9,0.95,1,1.05], "labels": false, "title": null, "grid": false, "domain": false, "tickSize": 3.5}},
            "fill": {"field": "series", "type": "nominal", "scale": {"domain": ["Degree (median)", "Closeness (median)", "Eigenvector (median)", "Betweenness (median)"], "range": ["#467821", "#a60628", "#7a68a6", "#348abd"]},
                     "legend": {"title": null, "orient": "right", "offset": 32, "symbolType": "M-2.56,0L2.56,0M-0.75,0A0.75,0.75,0,1,0,0.75,0A0.75,0.75,0,1,0,-0.75,0Z", "symbolSize": 256, "symbolStrokeWidth": 3, "labelOffset": 21, "rowPadding": 6.3, "labelFontSize": 20, "labelLimit": 0, "symbolOpacity": 1}},
            "stroke": {"field": "series", "type": "nominal", "scale": {"domain": ["Degree (median)", "Closeness (median)", "Eigenvector (median)", "Betweenness (median)"], "range": ["#467821", "#a60628", "#7a68a6", "#348abd"]},
                     "legend": {"title": null, "orient": "right", "offset": 32, "symbolType": "M-2.56,0L2.56,0M-0.75,0A0.75,0.75,0,1,0,0.75,0A0.75,0.75,0,1,0,-0.75,0Z", "symbolSize": 256, "symbolStrokeWidth": 3, "labelOffset": 21, "rowPadding": 6.3, "labelFontSize": 20, "labelLimit": 0, "symbolOpacity": 1}}
          }
        }
      ]
    }
  ]
}
